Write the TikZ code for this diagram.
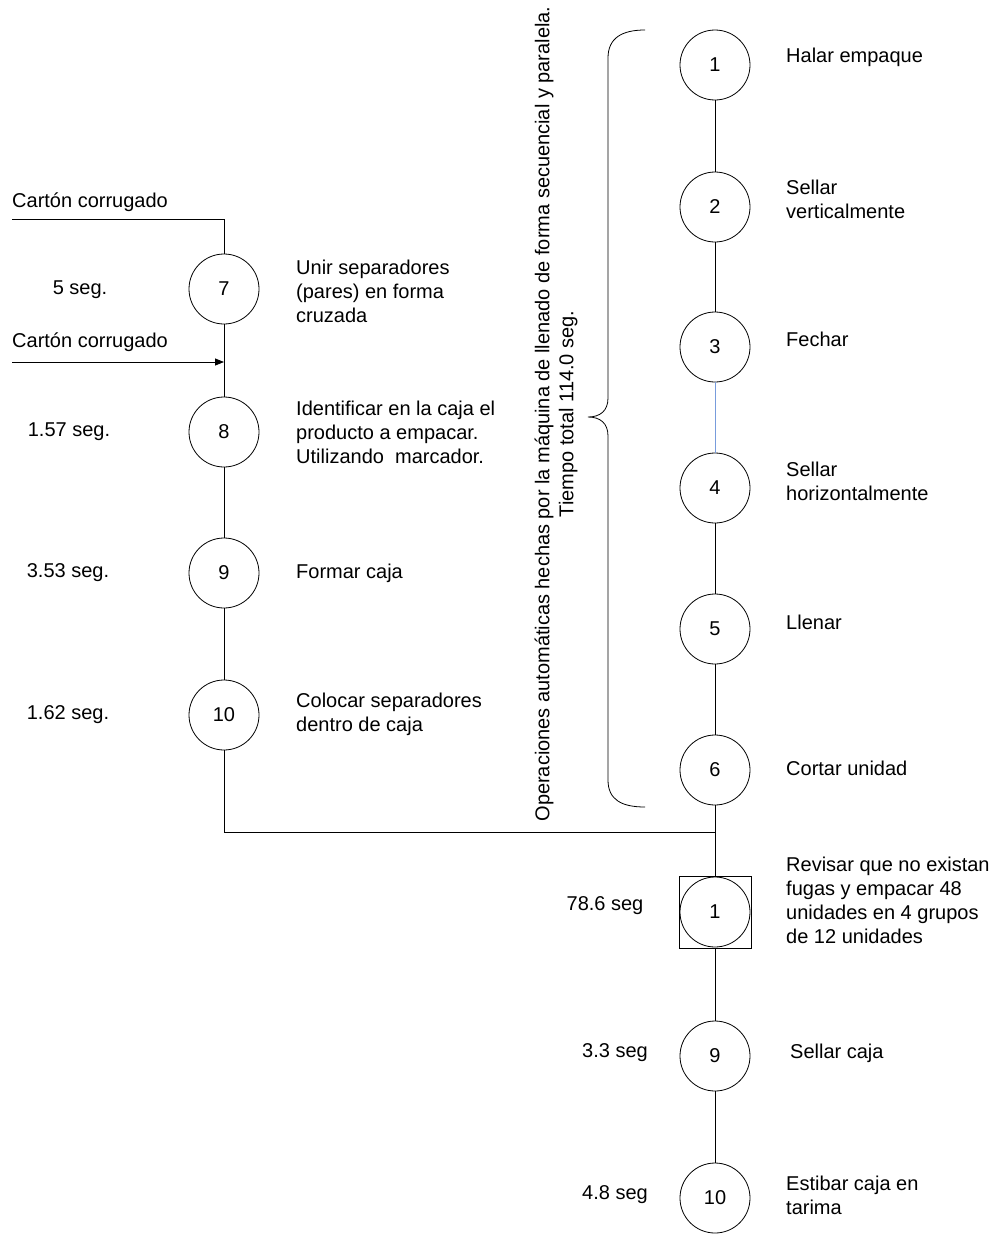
\documentclass[tikz,border=0pt]{standalone}
\usepackage{fontspec}
\setmainfont{Liberation Sans}
\usetikzlibrary{arrows.meta}
\definecolor{linkblue}{RGB}{120,156,220}
\begin{document}
\begin{tikzpicture}[x=1pt,y=-1pt,
  txt/.style={inner sep=0pt,font=\fontsize{20}{24}\selectfont},
  op/.style={circle,draw,line width=0.8pt,minimum size=70pt,inner sep=0pt,font=\fontsize{20}{24}\selectfont},
  insp/.style={rectangle,draw,line width=0.8pt,minimum size=72pt,inner sep=0pt},
  lbl/.style={txt,anchor=west,align=left},
  tm/.style={txt,anchor=center},
  ln/.style={line width=0.8pt}]
\useasboundingbox (0,0) rectangle (997,1234);

% right column
\node[op] (r1) at (715,65) {1};
\node[op] (r2) at (715,207) {2};
\node[op] (r3) at (715,347) {3};
\node[op] (r4) at (715,488) {4};
\node[op] (r5) at (715,629) {5};
\node[op] (r6) at (715,770) {6};
\node[insp] (sq) at (715,912) {};
\node[op] (i1) at (715,912) {1};
\node[op] (r9) at (715,1056) {9};
\node[op] (r10) at (715,1198) {10};

\node[lbl] at (786,57) {Halar empaque};
\node[lbl] at (786,199) {Sellar\\verticalmente};
\node[lbl] at (786,339) {Fechar};
\node[lbl] at (786,481) {Sellar\\horizontalmente};
\node[lbl] at (786,622) {Llenar};
\node[lbl] at (786,768) {Cortar unidad};
\node[lbl] at (786,900) {Revisar que no existan\\fugas y empacar 48\\unidades en 4 grupos\\de 12 unidades};
\node[lbl] at (790,1053) {Sellar caja};
\node[lbl] at (786,1195) {Estibar caja en\\tarima};

\node[tm] at (605,906) {78.6 seg};
\node[tm] at (615,1053) {3.3 seg};
\node[tm] at (615,1195) {4.8 seg};

\draw[ln] (r1) -- (r2);
\draw[ln] (r2) -- (r3);
\draw[line width=1pt,linkblue] (r3) -- (r4);
\draw[ln] (r4) -- (r5);
\draw[ln] (r5) -- (r6);
\draw[ln] (r6) -- (sq);
\draw[ln] (sq) -- (r9);
\draw[ln] (r9) -- (r10);

% brace and rotated note
\draw[ln] (645,30) .. controls (622,30) and (608,38) .. (608,58) -- (608,398)
  .. controls (608,411) and (600,417) .. (588,417)
  .. controls (600,417) and (608,423) .. (608,436) -- (608,780)
  .. controls (608,800) and (622,807) .. (645,807);
\node[txt,rotate=90,align=center] (note) at (556,414)
  {Operaciones automáticas hechas por la máquina de llenado de forma secuencial y paralela.\\Tiempo total 114.0 seg.};

% left column
\node[op] (c7) at (224,289) {7};
\node[op] (c8) at (224,432) {8};
\node[op] (c9) at (224,573) {9};
\node[op] (c10) at (224,715) {10};

\node[lbl] at (296,291) {Unir separadores\\(pares) en forma\\cruzada};
\node[lbl] at (296,432) {Identificar en la caja el\\producto a empacar.\\Utilizando~~marcador.};
\node[lbl] at (296,573) {Formar caja};
\node[lbl] at (296,714) {Colocar separadores\\dentro de caja};

\node[tm] at (80,290) {5 seg.};
\node[tm] at (69,432) {1.57 seg.};
\node[tm] at (68,573) {3.53 seg.};
\node[tm] at (68,715) {1.62 seg.};

\node[txt,anchor=west] (m1) at (12,202) {Cartón corrugado};
\node[txt,anchor=west] (m2) at (12,342) {Cartón corrugado};
\coordinate (in1) at (12,219);
\coordinate (in2) at (12,362);
\coordinate (j) at (715,832);

\draw[ln] (in1) -| (c7.north);
\draw[ln,-{Triangle[length=9pt,width=7pt]}] (in2) -- (in2 -| c7);
\draw[ln] (c7) -- (c8);
\draw[ln] (c8) -- (c9);
\draw[ln] (c9) -- (c10);
\draw[ln] (c10.south) |- (j);
\end{tikzpicture}
\end{document}
